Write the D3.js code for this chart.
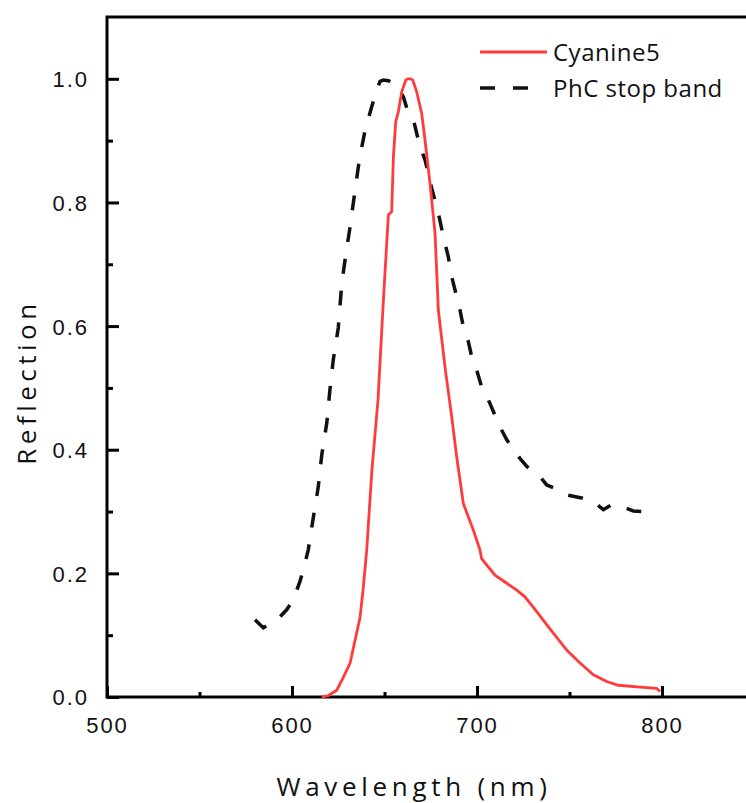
<!DOCTYPE html>
<html>
<head>
<meta charset="utf-8">
<script src="https://cdn.jsdelivr.net/npm/d3@7"></script>
<style>
  body { margin: 0; background: #fff; }
  svg { display: block; font-family: "Open Sans", "Noto Sans", sans-serif; }
</style>
</head>
<body>
<div id="chart"></div>
<script>
// Cyanine5 reflection
var cyWave = [616, 619.5, 624.2, 627.6, 631.4, 634.1, 636.8, 638.4, 640.4, 643.2, 646.5, 649.4, 652.1, 653.9,
    654.8, 656.1, 657.5, 659.3, 661.5, 662.5, 664.2, 665.3, 667.4, 670.1, 671.9, 674.6, 677.3, 679.1, 682.7, 686.3,
    689.0, 692.6, 698.0, 701.6, 702.5, 709.7, 716.1, 721.5, 725.9, 732.3, 738.5, 748.5, 755.7, 762.9,
    770.1, 776.4, 788.1, 797.1, 798.9];
var cyVal = [0.000, 0.002, 0.011, 0.031, 0.055, 0.092, 0.129, 0.173, 0.238, 0.367, 0.481, 0.642, 0.780, 0.785,
    0.874, 0.931, 0.947, 0.979, 0.998, 1.0, 1.0, 0.998, 0.979, 0.944, 0.901, 0.831, 0.751, 0.626, 0.534, 0.454,
    0.389, 0.313, 0.270, 0.238, 0.224, 0.197, 0.184, 0.173, 0.162, 0.138, 0.114, 0.076, 0.055, 0.036,
    0.025, 0.019, 0.016, 0.014, 0.009];

// PhC stop band
var phcWave = [580.0, 584.5, 589.9, 592.6, 597.1, 600.7, 604.3, 606.1, 608.8, 611.5, 614.2, 616.1, 618.8, 620.5,
    622.3, 625.0, 626.9, 629.2, 631.4, 634.1, 636.4, 639.5, 643.1, 645.8, 647.6, 649.4, 652.1, 654.8, 656.6,
    660.2, 662.0, 665.6, 667.4, 669.2, 671.9, 673.7, 675.5, 679.1, 681.8, 684.5, 686.3, 689.0, 690.8, 692.6,
    695.3, 697.1, 699.8, 702.5, 706.1, 709.7, 712.4, 716.1, 720.5, 723.2, 726.9, 734.1, 737.7, 744.0, 748.5,
    756.6, 762.9, 768.3, 772.8, 779.1, 784.5, 789.9, 792.6];
var phcVal = [0.125, 0.112, 0.122, 0.127, 0.141, 0.157, 0.187, 0.206, 0.238, 0.290, 0.340, 0.392, 0.443, 0.497,
    0.545, 0.597, 0.669, 0.718, 0.761, 0.820, 0.869, 0.917, 0.955, 0.982, 0.996, 0.998, 0.997, 0.993, 0.988,
    0.971, 0.953, 0.934, 0.912, 0.890, 0.869, 0.847, 0.823, 0.783, 0.745, 0.712, 0.680, 0.648, 0.626, 0.599,
    0.575, 0.551, 0.529, 0.502, 0.481, 0.456, 0.437, 0.416, 0.397, 0.386, 0.373, 0.356, 0.343, 0.335, 0.327,
    0.322, 0.316, 0.303, 0.311, 0.307, 0.301, 0.300, 0.294];

var xMajor = [500, 600, 700, 800];
var xMinor = [550, 650, 750];
var yMajor = [0, 0.2, 0.4, 0.6, 0.8, 1.0];
var yMinor = [0.1, 0.3, 0.5, 0.7, 0.9];
var seriesNames = ["Cyanine5", "PhC stop band"];

function drawChart() {
    var margin = { top: 17, left: 107 },
        width = 647.5,
        height = 680;

    var x = d3.scaleLinear().domain([500, 850]).range([0, width]);
    var y = d3.scaleLinear().domain([0, 1.1]).range([height, 0]);

    var svg = d3.select("#chart").append("svg")
        .attr("width", 746)
        .attr("height", 803)
        .append("g")
        .attr("transform", "translate(" + margin.left + "," + margin.top + ")");

    // frame (right side runs off the picture)
    svg.append("rect")
        .attr("x", 0).attr("y", 0)
        .attr("width", width).attr("height", height)
        .attr("fill", "none")
        .attr("stroke", "#000")
        .attr("stroke-width", 3);

    // x axis: ticks pointing inward
    var xAx = svg.append("g")
        .attr("transform", "translate(0," + height + ")")
        .call(d3.axisBottom(x).tickValues(xMajor).tickSize(-11).tickPadding(0).tickFormat(d3.format("d")));
    xAx.select(".domain").remove();
    xAx.selectAll("line").attr("stroke-width", 3);
    xAx.selectAll("text")
        .attr("y", 36)
        .attr("dy", 0)
        .style("font-size", "22px")
        .style("letter-spacing", "2px")
        .attr("fill", "#111");

    var xAxMin = svg.append("g")
        .attr("transform", "translate(0," + height + ")")
        .call(d3.axisBottom(x).tickValues(xMinor).tickSize(-5).tickFormat(""));
    xAxMin.select(".domain").remove();
    xAxMin.selectAll("line").attr("stroke-width", 3);

    // y axis
    var yAx = svg.append("g")
        .call(d3.axisLeft(y).tickValues(yMajor).tickSize(-12).tickPadding(18).tickFormat(d3.format(".1f")));
    yAx.select(".domain").remove();
    yAx.selectAll("line").attr("stroke-width", 3);
    yAx.selectAll("text")
        .attr("dy", "0.36em")
        .style("font-size", "22px")
        .style("letter-spacing", "2px")
        .attr("fill", "#111");

    var yAxMin = svg.append("g")
        .call(d3.axisLeft(y).tickValues(yMinor).tickSize(-6).tickFormat(""));
    yAxMin.select(".domain").remove();
    yAxMin.selectAll("line").attr("stroke-width", 3);

    // axis titles
    svg.append("text")
        .attr("x", 307)
        .attr("y", 779)
        .attr("text-anchor", "middle")
        .style("font-size", "26px")
        .style("letter-spacing", "4.7px")
        .attr("fill", "#111")
        .text("Wavelength (nm)");

    svg.append("text")
        .attr("transform", "translate(-71," + 365 + ") rotate(-90)")
        .attr("text-anchor", "middle")
        .style("font-size", "26px")
        .style("letter-spacing", "4.5px")
        .attr("fill", "#111")
        .text("Reflection");

    var line = d3.line()
        .x(function (d) { return x(d[0]); })
        .y(function (d) { return y(d[1]); });

    var phc = d3.zip(phcWave, phcVal);
    var cy = d3.zip(cyWave, cyVal);

    svg.append("path")
        .datum(phc)
        .attr("d", line)
        .attr("fill", "none")
        .attr("stroke", "#111")
        .attr("stroke-width", 3.5)
        .attr("stroke-dasharray", "15,17");

    svg.append("path")
        .datum(cy)
        .attr("d", line)
        .attr("fill", "none")
        .attr("stroke", "#ff3b3b")
        .attr("stroke-width", 2.8);

    // legend
    var leg = svg.append("g").attr("transform", "translate(373,35)");
    leg.append("line")
        .attr("x1", 0).attr("x2", 67).attr("y1", 0).attr("y2", 0)
        .attr("stroke", "#ff3b3b").attr("stroke-width", 2.8);
    leg.append("line")
        .attr("x1", 0).attr("x2", 50).attr("y1", 36).attr("y2", 36)
        .attr("stroke", "#111").attr("stroke-width", 3.5)
        .attr("stroke-dasharray", "15,18");
    leg.selectAll(".lt")
        .data(seriesNames)
        .enter().append("text")
        .attr("class", "lt")
        .attr("x", 73)
        .attr("y", function (d, i) { return i * 36 + 9; })
        .style("font-size", "24px")
        .style("letter-spacing", "0.5px")
        .attr("fill", "#111")
        .text(function (d) { return d; });
}

drawChart();
</script>
</body>
</html>
